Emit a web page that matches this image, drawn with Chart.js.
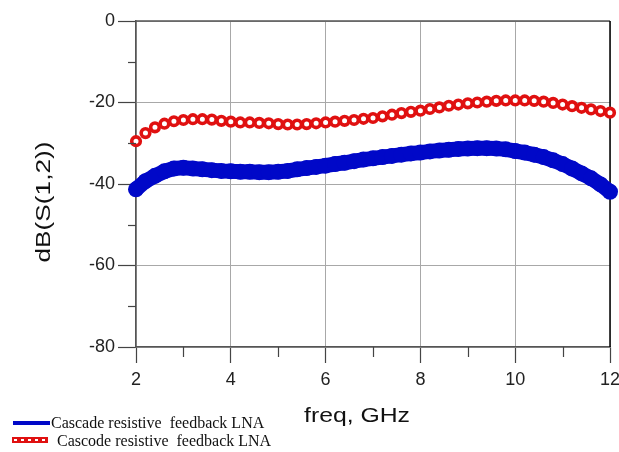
<!DOCTYPE html>
<html>
<head>
<meta charset="utf-8">
<script src="https://cdn.jsdelivr.net/npm/chart.js@4.4.1/dist/chart.umd.min.js"></script>
<style>
  html, body { margin: 0; padding: 0; background: #fff; }
  #wrap { width: 619px; height: 452px; position: relative; }
</style>
</head>
<body>
<div id="wrap"><canvas id="canvas" width="619" height="452"></canvas></div>
<script>
// frequency points, GHz
var freq = [2.0, 2.2, 2.4, 2.6, 2.8, 3.0, 3.2, 3.4, 3.6, 3.8,
  4.0, 4.2, 4.4, 4.6, 4.8, 5.0, 5.2, 5.4, 5.6, 5.8,
  6.0, 6.2, 6.4, 6.6, 6.8, 7.0, 7.2, 7.4, 7.6, 7.8,
  8.0, 8.2, 8.4, 8.6, 8.8, 9.0, 9.2, 9.4, 9.6, 9.8,
  10.0, 10.2, 10.4, 10.6, 10.8, 11.0, 11.2, 11.4, 11.6, 11.8, 12.0];

// dB(S(1,2)) - cascade (blue)
var cascade = [-41.3, -39.3, -38.0, -36.9, -36.2, -36.0, -36.2, -36.4, -36.6, -36.8,
  -36.9, -37.0, -37.0, -37.1, -37.1, -37.0, -36.8, -36.4, -36.1, -35.8,
  -35.5, -35.1, -34.8, -34.4, -34.0, -33.7, -33.4, -33.1, -32.8, -32.5,
  -32.3, -32.0, -31.8, -31.6, -31.4, -31.3, -31.2, -31.2, -31.3, -31.5,
  -31.9, -32.3, -32.8, -33.4, -34.2, -35.1, -36.2, -37.4, -38.6, -40.1, -41.9];

// dB(S(1,2)) - cascode (red)
var cascode = [-29.5, -27.5, -26.1, -25.2, -24.6, -24.3, -24.1, -24.1, -24.2, -24.5,
  -24.7, -24.9, -24.9, -25.0, -25.1, -25.3, -25.4, -25.4, -25.3, -25.1,
  -24.9, -24.7, -24.5, -24.3, -24.0, -23.8, -23.4, -23.0, -22.6, -22.3,
  -22.0, -21.6, -21.2, -20.8, -20.5, -20.2, -20.0, -19.8, -19.6, -19.5,
  -19.5, -19.5, -19.6, -19.8, -20.1, -20.5, -20.9, -21.3, -21.7, -22.1, -22.5];

var seriesNames = ['Cascade resistive  feedback LNA', 'Cascode resistive  feedback LNA'];
var xMinorTicks = [3, 5, 7, 9, 11];
var yMinorTicks = [-10, -30, -50, -70];
var xTitle = 'freq, GHz';
var yTitle = 'dB(S(1,2))';

function pts(ys) {
  return freq.map(function (f, i) { return { x: f, y: ys[i] }; });
}

// frame, minor ticks, axis titles and legend
var extras = {
  id: 'extras',
  beforeDatasetsDraw: function (chart) {
    var ctx = chart.ctx, a = chart.chartArea;
    ctx.save();
    ctx.strokeStyle = '#555';
    ctx.lineWidth = 1.5;
    ctx.beginPath();
    ctx.moveTo(a.left, a.top);
    ctx.lineTo(a.right, a.top);
    ctx.stroke();
    ctx.strokeStyle = '#000';
    ctx.beginPath();
    ctx.moveTo(a.right, a.top);
    ctx.lineTo(a.right, a.bottom);
    ctx.stroke();
    ctx.restore();
  },
  afterDraw: function (chart) {
    var ctx = chart.ctx, a = chart.chartArea;
    var xs = chart.scales.x, ys = chart.scales.y;
    ctx.save();
    ctx.strokeStyle = '#444';
    ctx.lineWidth = 1.2;
    xMinorTicks.forEach(function (v) {
      var px = Math.round(xs.getPixelForValue(v)) + 0.5;
      ctx.beginPath();
      ctx.moveTo(px, a.bottom);
      ctx.lineTo(px, a.bottom + 10);
      ctx.stroke();
    });
    yMinorTicks.forEach(function (v) {
      var py = Math.round(ys.getPixelForValue(v)) + 0.5;
      ctx.beginPath();
      ctx.moveTo(a.left, py);
      ctx.lineTo(a.left - 8, py);
      ctx.stroke();
    });

    // axis titles (stretched a little, like the original)
    ctx.fillStyle = '#111';
    ctx.font = '21px "Liberation Sans", Arial, sans-serif';
    ctx.textAlign = 'center';
    ctx.textBaseline = 'alphabetic';
    var w = ctx.measureText(xTitle).width;
    ctx.save();
    ctx.translate(357, 422);
    ctx.scale(106 / w, 1);
    ctx.fillText(xTitle, 0, 0);
    ctx.restore();

    w = ctx.measureText(yTitle).width;
    ctx.save();
    ctx.translate(50, 202);
    ctx.rotate(-Math.PI / 2);
    ctx.scale(121 / w, 1);
    ctx.fillText(yTitle, 0, 0);
    ctx.restore();

    // legend
    ctx.lineCap = 'butt';
    ctx.strokeStyle = '#0008c8';
    ctx.lineWidth = 4;
    ctx.beginPath();
    ctx.moveTo(13, 423);
    ctx.lineTo(50, 423);
    ctx.stroke();
    ctx.strokeStyle = '#e01010';
    ctx.lineWidth = 6;
    ctx.beginPath();
    ctx.moveTo(12, 440);
    ctx.lineTo(48, 440);
    ctx.stroke();
    ctx.strokeStyle = '#fff';
    ctx.lineWidth = 2;
    ctx.setLineDash([3, 4]);
    ctx.beginPath();
    ctx.moveTo(14, 440);
    ctx.lineTo(47, 440);
    ctx.stroke();
    ctx.setLineDash([]);

    ctx.fillStyle = '#111';
    ctx.font = '16px "Liberation Serif", "Times New Roman", serif';
    ctx.textAlign = 'left';
    ctx.fillText(seriesNames[0], 51, 428);
    ctx.fillText(seriesNames[1], 57, 446);
    ctx.restore();
  }
};

var ctx = document.getElementById('canvas').getContext('2d');
var myChart = new Chart(ctx, {
  type: 'scatter',
  data: {
    datasets: [{
      label: seriesNames[0],
      data: pts(cascade),
      showLine: true,
      borderColor: '#0008c8',
      borderWidth: 15,
      backgroundColor: '#0008c8',
      pointRadius: 8,
      pointBorderWidth: 0,
      pointBackgroundColor: '#0008c8',
      clip: false
    }, {
      label: seriesNames[1],
      data: pts(cascode),
      showLine: false,
      pointRadius: 4.3,
      pointBorderWidth: 3.6,
      pointBorderColor: '#e01010',
      pointBackgroundColor: '#ffffff',
      clip: false
    }]
  },
  options: {
    responsive: false,
    animation: false,
    layout: { padding: { top: 21, right: 9, left: 0, bottom: 0 } },
    plugins: {
      legend: { display: false },
      tooltip: { enabled: false }
    },
    scales: {
      x: {
        type: 'linear',
        min: 2,
        max: 12,
        afterFit: function (s) {
          s.height = 105;
          s.paddingLeft = 0;
          s.paddingRight = 0;
        },
        ticks: {
          stepSize: 2,
          padding: 6,
          color: '#222',
          font: { family: '"Liberation Sans", Arial, sans-serif', size: 18 }
        },
        grid: {
          color: '#a8a8a8',
          lineWidth: 1,
          tickLength: 16,
          tickColor: '#444',
          tickWidth: 1.2
        },
        border: { color: '#555', width: 1.5 }
      },
      y: {
        min: -80,
        max: 0,
        afterFit: function (s) { s.width = 136; },
        ticks: {
          stepSize: 20,
          padding: 3,
          color: '#222',
          font: { family: '"Liberation Sans", Arial, sans-serif', size: 18 }
        },
        grid: {
          color: '#a8a8a8',
          lineWidth: 1,
          tickLength: 18,
          tickColor: '#444',
          tickWidth: 1.2
        },
        border: { color: '#555', width: 1.5 }
      }
    }
  },
  plugins: [extras]
});
</script>
</body>
</html>
